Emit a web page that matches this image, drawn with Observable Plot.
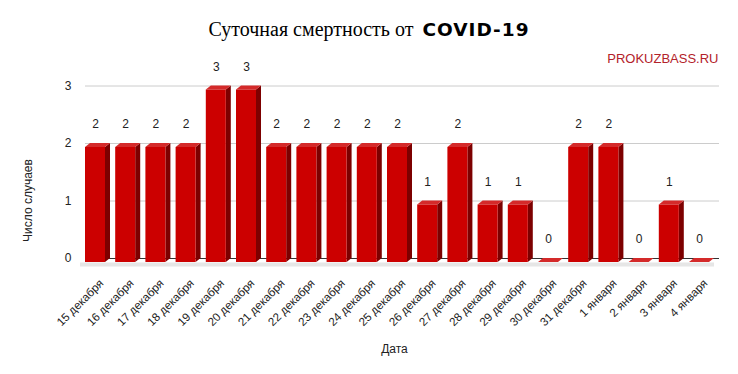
<!DOCTYPE html>
<html><head><meta charset="utf-8">
<script src="https://cdn.jsdelivr.net/npm/d3@7"></script>
<script src="https://cdn.jsdelivr.net/npm/@observablehq/plot@0.6"></script>
<style>
body{margin:0;background:#fff;}
#title{height:44px;width:738px;box-sizing:border-box;padding-top:19px;text-align:center;line-height:20px;color:#000;white-space:nowrap;}
#title .s{font-family:"Liberation Serif","Times New Roman",serif;font-size:20px;}
#title .b{font-family:"DejaVu Sans",sans-serif;font-weight:900;font-size:18.5px;letter-spacing:1px;margin-left:4px;}
</style></head>
<body>
<div id="title"><span class="s">Суточная смертность от </span><span class="b">COVID-19</span></div>
<div id="chart"></div>
<script>
const dates = ["15 декабря","16 декабря","17 декабря","18 декабря","19 декабря","20 декабря","21 декабря","22 декабря","23 декабря","24 декабря","25 декабря","26 декабря","27 декабря","28 декабря","29 декабря","30 декабря","31 декабря","1 января","2 января","3 января","4 января"];
const deaths = [2,2,2,2,3,3,2,2,2,2,2,1,2,1,1,0,2,2,0,1,0];
const yTicks = [0,1,2,3];
const xTitle = "Дата";
const yTitle = "Число случаев";
const source = "PROKUZBASS.RU";

const W = 738, H = 330;
const xRange = [95, 699], yRange = [218, 45.5];
const pxX = (xRange[1] - xRange[0]) / (dates.length - 1);
const pxY = (yRange[0] - yRange[1]) / 3;
const hw = 10 / pxX, dX = 5 / pxX, dY = 4 / pxY;

const rows = deaths.map((v, i) => ({i, v, date: dates[i]}));
const side = rows.flatMap(d => [
  {i: d.i, x: d.i + hw, y1: 0, y2: d.v},
  {i: d.i, x: d.i + hw + dX, y1: dY, y2: d.v + dY}
]);
const topF = rows.flatMap(d => [
  {i: d.i, y: d.v, x1: d.i - hw, x2: d.i + hw},
  {i: d.i, y: d.v + dY, x1: d.i - hw + dX, x2: d.i + hw + dX}
]);

const chart = Plot.plot({
  width: W, height: H,
  marginLeft: 80, marginRight: 24, marginTop: 40, marginBottom: 112,
  style: {fontFamily: "'Liberation Sans', Arial, sans-serif", fontSize: "12px", color: "#222", background: "#fff"},
  x: {domain: [0, dates.length - 1], range: xRange},
  y: {domain: [0, 3], range: yRange},
  marks: [
    Plot.ruleY([0], {stroke: "#e6e6e6", strokeWidth: 4, dy: 2}),
    Plot.ruleY([1, 2, 3], {stroke: "#cccccc", dx: 5, dy: -4}),
    Plot.ruleY([0], {stroke: "#333333", dx: 5, dy: -4}),
    Plot.area(side, {x1: "x", y1: "y1", y2: "y2", z: "i", fill: "#7d0000"}),
    Plot.area(topF, {x1: "x1", x2: "x2", y1: "y", z: "i", fill: "#d42a2a"}),
    Plot.rect(rows, {x1: d => d.i - hw, x2: d => d.i + hw, y1: 0, y2: "v", fill: "#cc0000"}),
    Plot.text(rows, {x: "i", y: "v", text: d => String(d.v), dy: -23, fill: "#222", fontSize: 12}),
    Plot.axisY(yTicks, {tickSize: 0, tickPadding: 9, dy: -4, fontSize: 12, tickFormat: d => String(d), label: null}),
    Plot.axisX(d3.range(dates.length), {tickFormat: i => dates[i], tickRotate: -45, tickSize: 0, tickPadding: 19, dx: 6, fontSize: 11.6, label: null}),
    Plot.text([xTitle], {text: d => d, frameAnchor: "bottom", lineAnchor: "middle", dy: 87, dx: -3, fontSize: 12, fill: "#222"}),
    Plot.text([yTitle], {text: d => d, frameAnchor: "left", rotate: -90, lineAnchor: "middle", textAnchor: "middle", dx: -52, dy: 27, fontSize: 12, fill: "#222"}),
    Plot.text([source], {text: d => d, frameAnchor: "top-right", textAnchor: "end", lineAnchor: "middle", dx: 4, dy: -26, fontSize: 13, fill: "#b3222a"})
  ]
});
document.getElementById("chart").append(chart);
</script>
</body></html>
